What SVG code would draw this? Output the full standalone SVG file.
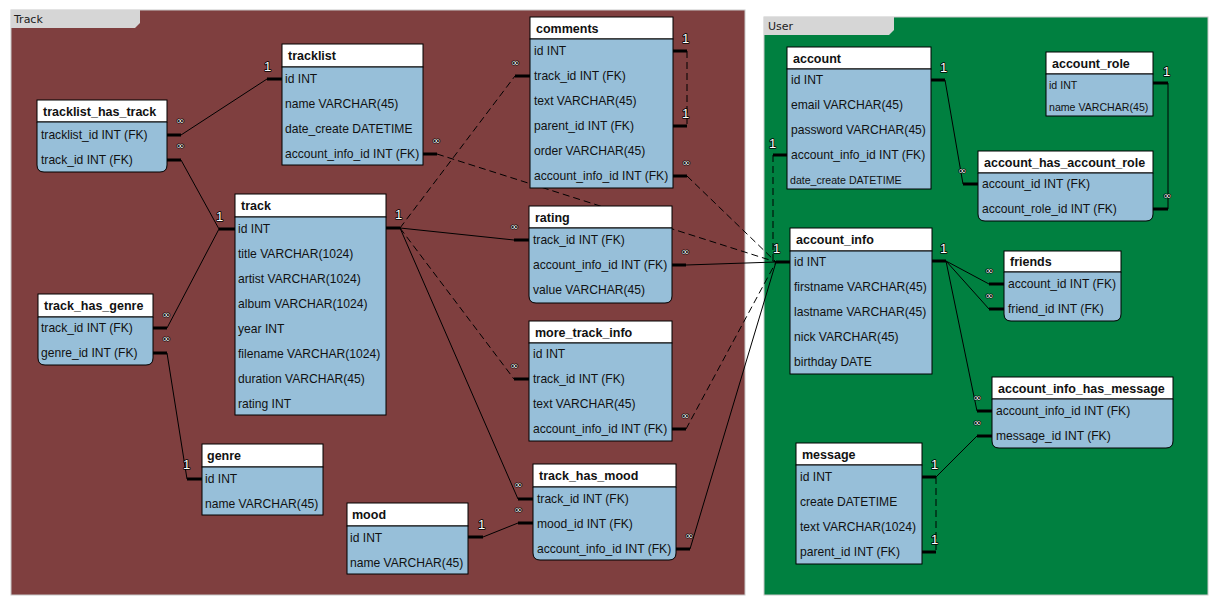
<svg xmlns="http://www.w3.org/2000/svg" width="1218" height="605" viewBox="0 0 1218 605">
  <style>
    .panel { stroke: #c8c8c8; stroke-width: 1; }
    .tab { fill: #d6d6d6; }
    .tabtxt { font-family: "DejaVu Sans", "Liberation Sans", sans-serif; font-size: 11px; fill: #202020; }
    .hd { fill: #ffffff; stroke: #000; stroke-width: 1; }
    .bd { fill: #97bfd9; stroke: #000; stroke-width: 1; }
    .title { font-family: "Liberation Sans", Arial, sans-serif; font-weight: bold; font-size: 12.5px; fill: #111; }
    .row { font-family: "Liberation Sans", Arial, sans-serif; font-size: 12.1px; fill: #111; }
    .sm { font-size: 10.6px; }
    .stub { stroke: #000; stroke-width: 3; fill: none; }
    .ln { stroke: #000; stroke-width: 1; fill: none; }
    .dash { stroke-dasharray: 7 4; }
    .one { font-family: "Liberation Sans", Arial, sans-serif; font-size: 13px; fill: #fff; stroke: #000; stroke-width: 1.6; paint-order: stroke; stroke-linejoin: round; }
    .many { font-family: "DejaVu Sans", sans-serif; font-size: 10px; fill: #fff; stroke: #000; stroke-width: 1.4; paint-order: stroke; stroke-linejoin: round; }
  </style>

  <rect width="1218" height="605" fill="#ffffff"/>

  <!-- Track area -->
  <g id="area-track">
    <rect class="panel" x="11" y="10" width="734" height="585" fill="#7f3f3f"/>
    <polygon class="tab" points="11,10 140,10 140,23 135,28 11,28"/>
    <text class="tabtxt" x="14" y="23">Track</text>
  </g>

  <!-- User area -->
  <g id="area-user">
    <rect class="panel" x="764" y="17" width="444" height="578" fill="#008040"/>
    <polygon class="tab" points="764,17 894,17 894,30 889,35 764,35"/>
    <text class="tabtxt" x="768" y="30">User</text>
  </g>

  <!-- Relationship lines -->
  <g id="connectors">
    <!-- tracklist_has_track.tracklist_id -> tracklist.id -->
    <line class="stub" x1="167" y1="135" x2="181" y2="135"/>
    <line class="stub" x1="267" y1="79" x2="282" y2="79"/>
    <line class="ln" x1="181" y1="135" x2="267" y2="79"/>
    <text class="one" x="264" y="71">1</text>
    <text class="many" x="176" y="124">∞</text>

    <!-- tracklist_has_track.track_id -> track.id -->
    <line class="stub" x1="167" y1="160" x2="181" y2="160"/>
    <line class="stub" x1="219" y1="229" x2="235" y2="229"/>
    <line class="ln" x1="181" y1="160" x2="219" y2="229"/>
    <text class="one" x="216" y="221">1</text>
    <text class="many" x="176" y="149">∞</text>

    <!-- track_has_genre.track_id -> track.id -->
    <line class="stub" x1="153" y1="328" x2="167" y2="328"/>
    <line class="ln" x1="167" y1="328" x2="219" y2="229"/>
    <text class="many" x="162" y="318">∞</text>

    <!-- track_has_genre.genre_id -> genre.id -->
    <line class="stub" x1="153" y1="353" x2="167" y2="353"/>
    <line class="stub" x1="187" y1="479" x2="202" y2="479"/>
    <line class="ln" x1="167" y1="353" x2="187" y2="479"/>
    <text class="one" x="183" y="469">1</text>
    <text class="many" x="162" y="342">∞</text>

    <!-- track.id fan-out -->
    <line class="stub" x1="386" y1="228" x2="400" y2="228"/>
    <text class="one" x="395" y="219">1</text>
    <line class="stub" x1="515" y1="76" x2="530" y2="76"/>
    <line class="ln dash" x1="400" y1="228" x2="515" y2="76"/>
    <text class="many" x="511" y="66">∞</text>
    <line class="stub" x1="514" y1="240" x2="529" y2="240"/>
    <line class="ln" x1="400" y1="228" x2="514" y2="240"/>
    <text class="many" x="510" y="230">∞</text>
    <line class="stub" x1="514" y1="379" x2="529" y2="379"/>
    <line class="ln dash" x1="400" y1="228" x2="514" y2="379"/>
    <text class="many" x="510" y="369">∞</text>
    <line class="stub" x1="518" y1="499" x2="533" y2="499"/>
    <line class="ln" x1="400" y1="228" x2="518" y2="499"/>
    <text class="many" x="514" y="488">∞</text>

    <!-- comments.parent_id -> comments.id -->
    <line class="stub" x1="673" y1="51" x2="687" y2="51"/>
    <line class="stub" x1="673" y1="126" x2="687" y2="126"/>
    <line class="ln dash" x1="687" y1="51" x2="687" y2="126"/>
    <text class="one" x="682" y="43">1</text>
    <text class="one" x="682" y="118">1</text>

    <!-- mood.id -> track_has_mood.mood_id -->
    <line class="stub" x1="468" y1="537" x2="483" y2="537"/>
    <line class="stub" x1="518" y1="523" x2="533" y2="523"/>
    <line class="ln" x1="483" y1="537" x2="518" y2="523"/>
    <text class="one" x="478" y="529">1</text>
    <text class="many" x="514" y="513">∞</text>

    <!-- account_info.id hub (left side) -->
    <line class="stub" x1="776" y1="262" x2="790" y2="262"/>
    <text class="one" x="773" y="253">1</text>
    <line class="stub" x1="423" y1="154" x2="437" y2="154"/>
    <line class="ln dash" x1="437" y1="154" x2="776" y2="262"/>
    <text class="many" x="432" y="144">∞</text>
    <line class="stub" x1="673" y1="176" x2="687" y2="176"/>
    <line class="ln dash" x1="687" y1="176" x2="776" y2="262"/>
    <text class="many" x="682" y="166">∞</text>
    <line class="stub" x1="672" y1="265" x2="686" y2="265"/>
    <line class="ln" x1="686" y1="265" x2="776" y2="262"/>
    <text class="many" x="681" y="255">∞</text>
    <line class="stub" x1="672" y1="429" x2="686" y2="429"/>
    <line class="ln dash" x1="686" y1="429" x2="776" y2="262"/>
    <text class="many" x="681" y="419">∞</text>
    <line class="stub" x1="676" y1="549" x2="690" y2="549"/>
    <line class="ln" x1="690" y1="549" x2="776" y2="262"/>
    <text class="many" x="685" y="539">∞</text>
    <!-- account.account_info_id -> account_info.id -->
    <line class="stub" x1="773" y1="155" x2="787" y2="155"/>
    <line class="ln dash" x1="773" y1="155" x2="773" y2="262"/>
    <text class="one" x="769" y="148">1</text>

    <!-- account.id -> account_has_account_role.account_id -->
    <line class="stub" x1="931" y1="80" x2="945" y2="80"/>
    <line class="stub" x1="963" y1="184" x2="978" y2="184"/>
    <line class="ln" x1="945" y1="80" x2="963" y2="184"/>
    <text class="one" x="940" y="72">1</text>
    <text class="many" x="958" y="174">∞</text>

    <!-- account_role.id -> account_has_account_role.account_role_id -->
    <line class="stub" x1="1153" y1="83" x2="1168" y2="83"/>
    <line class="stub" x1="1153" y1="209" x2="1168" y2="209"/>
    <line class="ln" x1="1168" y1="83" x2="1168" y2="209"/>
    <text class="one" x="1163" y="76">1</text>
    <text class="many" x="1163" y="199">∞</text>

    <!-- account_info.id fan-out (right side) -->
    <line class="stub" x1="932" y1="261" x2="946" y2="261"/>
    <text class="one" x="940" y="253">1</text>
    <line class="stub" x1="989" y1="284" x2="1004" y2="284"/>
    <line class="ln" x1="946" y1="261" x2="989" y2="284"/>
    <text class="many" x="985" y="274">∞</text>
    <line class="stub" x1="989" y1="309" x2="1004" y2="309"/>
    <line class="ln" x1="946" y1="261" x2="989" y2="309"/>
    <text class="many" x="985" y="299">∞</text>
    <line class="stub" x1="977" y1="411" x2="992" y2="411"/>
    <line class="ln" x1="946" y1="261" x2="977" y2="411"/>
    <text class="many" x="973" y="401">∞</text>

    <!-- message.id -> account_info_has_message.message_id -->
    <line class="stub" x1="922" y1="477" x2="936" y2="477"/>
    <line class="stub" x1="977" y1="436" x2="992" y2="436"/>
    <line class="ln" x1="936" y1="477" x2="977" y2="436"/>
    <text class="one" x="931" y="469">1</text>
    <text class="many" x="973" y="426">∞</text>

    <!-- message.parent_id -> message.id -->
    <line class="stub" x1="922" y1="552" x2="936" y2="552"/>
    <line class="ln dash" x1="936" y1="477" x2="936" y2="552"/>
    <text class="one" x="931" y="544">1</text>
  </g>

  <!-- Tables: Track -->
  <g id="tracklist_has_track">
    <rect class="hd" x="37" y="100" width="130" height="22"/>
    <path class="bd" d="M37,122 H167 V165 Q167,172 160,172 H44 Q37,172 37,165 Z"/>
    <text class="title" x="43" y="116">tracklist_has_track</text>
    <text class="row" x="41" y="139">tracklist_id INT (FK)</text>
    <text class="row" x="41" y="164">track_id INT (FK)</text>
  </g>

  <g id="tracklist">
    <rect class="hd" x="282" y="44" width="141" height="23"/>
    <rect class="bd" x="282" y="67" width="141" height="98"/>
    <text class="title" x="288" y="60">tracklist</text>
    <text class="row" x="285" y="83">id INT</text>
    <text class="row" x="285" y="108">name VARCHAR(45)</text>
    <text class="row" x="285" y="133">date_create DATETIME</text>
    <text class="row" x="285" y="158">account_info_id INT (FK)</text>
  </g>

  <g id="track">
    <rect class="hd" x="235" y="194" width="151" height="23"/>
    <rect class="bd" x="235" y="217" width="151" height="198"/>
    <text class="title" x="241" y="210">track</text>
    <text class="row" x="238" y="233">id INT</text>
    <text class="row" x="238" y="258">title VARCHAR(1024)</text>
    <text class="row" x="238" y="283">artist VARCHAR(1024)</text>
    <text class="row" x="238" y="308">album VARCHAR(1024)</text>
    <text class="row" x="238" y="333">year INT</text>
    <text class="row" x="238" y="358">filename VARCHAR(1024)</text>
    <text class="row" x="238" y="383">duration VARCHAR(45)</text>
    <text class="row" x="238" y="408">rating INT</text>
  </g>

  <g id="track_has_genre">
    <rect class="hd" x="38" y="294" width="115" height="23"/>
    <path class="bd" d="M38,317 H153 V358 Q153,365 146,365 H45 Q38,365 38,358 Z"/>
    <text class="title" x="44" y="310">track_has_genre</text>
    <text class="row" x="41" y="332">track_id INT (FK)</text>
    <text class="row" x="41" y="357">genre_id INT (FK)</text>
  </g>

  <g id="genre">
    <rect class="hd" x="202" y="444" width="121" height="23"/>
    <rect class="bd" x="202" y="467" width="121" height="48"/>
    <text class="title" x="207" y="460">genre</text>
    <text class="row" x="205" y="483">id INT</text>
    <text class="row" x="205" y="508">name VARCHAR(45)</text>
  </g>

  <g id="mood">
    <rect class="hd" x="347" y="503" width="121" height="23"/>
    <rect class="bd" x="347" y="526" width="121" height="48"/>
    <text class="title" x="352" y="519">mood</text>
    <text class="row" x="350" y="542">id INT</text>
    <text class="row" x="350" y="567">name VARCHAR(45)</text>
  </g>

  <g id="track_has_mood">
    <rect class="hd" x="533" y="464" width="143" height="23"/>
    <path class="bd" d="M533,487 H676 V553 Q676,560 669,560 H540 Q533,560 533,553 Z"/>
    <text class="title" x="539" y="480">track_has_mood</text>
    <text class="row" x="537" y="503">track_id INT (FK)</text>
    <text class="row" x="537" y="528">mood_id INT (FK)</text>
    <text class="row" x="537" y="553">account_info_id INT (FK)</text>
  </g>

  <g id="comments">
    <rect class="hd" x="530" y="17" width="143" height="22"/>
    <rect class="bd" x="530" y="39" width="143" height="149"/>
    <text class="title" x="536" y="33">comments</text>
    <text class="row" x="534" y="55">id INT</text>
    <text class="row" x="534" y="80">track_id INT (FK)</text>
    <text class="row" x="534" y="105">text VARCHAR(45)</text>
    <text class="row" x="534" y="130">parent_id INT (FK)</text>
    <text class="row" x="534" y="155">order VARCHAR(45)</text>
    <text class="row" x="534" y="180">account_info_id INT (FK)</text>
  </g>

  <g id="rating">
    <rect class="hd" x="529" y="206" width="143" height="22"/>
    <path class="bd" d="M529,228 H672 V296 Q672,303 665,303 H536 Q529,303 529,296 Z"/>
    <text class="title" x="535" y="222">rating</text>
    <text class="row" x="533" y="244">track_id INT (FK)</text>
    <text class="row" x="533" y="269">account_info_id INT (FK)</text>
    <text class="row" x="533" y="294">value VARCHAR(45)</text>
  </g>

  <g id="more_track_info">
    <rect class="hd" x="529" y="321" width="143" height="22"/>
    <rect class="bd" x="529" y="343" width="143" height="98"/>
    <text class="title" x="535" y="337">more_track_info</text>
    <text class="row" x="533" y="358">id INT</text>
    <text class="row" x="533" y="383">track_id INT (FK)</text>
    <text class="row" x="533" y="408">text VARCHAR(45)</text>
    <text class="row" x="533" y="433">account_info_id INT (FK)</text>
  </g>

  <!-- Tables: User -->
  <g id="account">
    <rect class="hd" x="787" y="47" width="144" height="22"/>
    <rect class="bd" x="787" y="69" width="144" height="120"/>
    <text class="title" x="793" y="63">account</text>
    <text class="row" x="791" y="84">id INT</text>
    <text class="row" x="791" y="109">email VARCHAR(45)</text>
    <text class="row" x="791" y="134">password VARCHAR(45)</text>
    <text class="row" x="791" y="159">account_info_id INT (FK)</text>
    <text class="row sm" x="790" y="184">date_create DATETIME</text>
  </g>

  <g id="account_role">
    <rect class="hd" x="1046" y="52" width="107" height="22"/>
    <rect class="bd" x="1046" y="74" width="107" height="42"/>
    <text class="title" x="1052" y="68">account_role</text>
    <text class="row sm" x="1049" y="89">id INT</text>
    <text class="row sm" x="1049" y="111">name VARCHAR(45)</text>
  </g>

  <g id="account_has_account_role">
    <rect class="hd" x="978" y="151" width="175" height="22"/>
    <path class="bd" d="M978,173 H1153 V214 Q1153,221 1146,221 H985 Q978,221 978,214 Z"/>
    <text class="title" x="984" y="167">account_has_account_role</text>
    <text class="row" x="982" y="188">account_id INT (FK)</text>
    <text class="row" x="982" y="213">account_role_id INT (FK)</text>
  </g>

  <g id="account_info">
    <rect class="hd" x="790" y="228" width="142" height="23"/>
    <rect class="bd" x="790" y="251" width="142" height="123"/>
    <text class="title" x="796" y="244">account_info</text>
    <text class="row" x="794" y="266">id INT</text>
    <text class="row" x="794" y="291">firstname VARCHAR(45)</text>
    <text class="row" x="794" y="316">lastname VARCHAR(45)</text>
    <text class="row" x="794" y="341">nick VARCHAR(45)</text>
    <text class="row" x="794" y="366">birthday DATE</text>
  </g>

  <g id="friends">
    <rect class="hd" x="1004" y="251" width="117" height="21"/>
    <path class="bd" d="M1004,272 H1121 V314 Q1121,321 1114,321 H1011 Q1004,321 1004,314 Z"/>
    <text class="title" x="1010" y="266">friends</text>
    <text class="row" x="1008" y="288">account_id INT (FK)</text>
    <text class="row" x="1008" y="313">friend_id INT (FK)</text>
  </g>

  <g id="account_info_has_message">
    <rect class="hd" x="992" y="377" width="181" height="22"/>
    <path class="bd" d="M992,399 H1173 V441 Q1173,448 1166,448 H999 Q992,448 992,441 Z"/>
    <text class="title" x="998" y="393">account_info_has_message</text>
    <text class="row" x="996" y="415">account_info_id INT (FK)</text>
    <text class="row" x="996" y="440">message_id INT (FK)</text>
  </g>

  <g id="message">
    <rect class="hd" x="796" y="443" width="126" height="22"/>
    <rect class="bd" x="796" y="465" width="126" height="99"/>
    <text class="title" x="802" y="459">message</text>
    <text class="row" x="800" y="481">id INT</text>
    <text class="row" x="800" y="506">create DATETIME</text>
    <text class="row" x="800" y="531">text VARCHAR(1024)</text>
    <text class="row" x="800" y="556">parent_id INT (FK)</text>
  </g>
</svg>
